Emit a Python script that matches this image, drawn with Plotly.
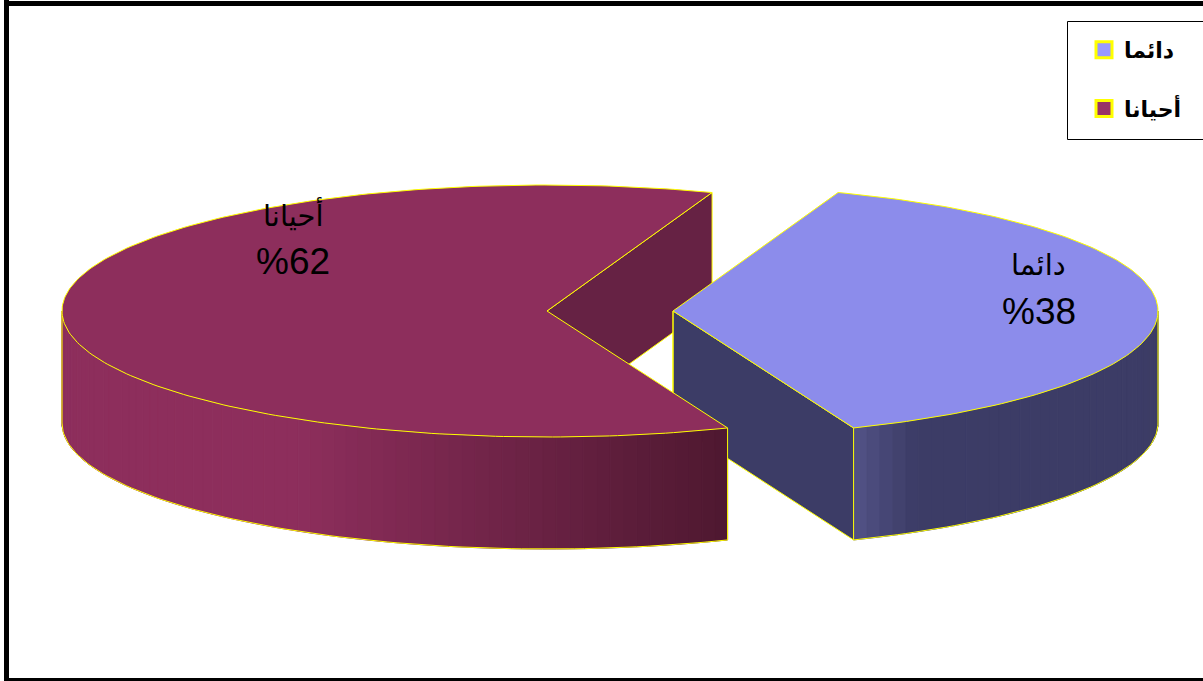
import math
import plotly.graph_objects as go

# ---- data ----
categories = ["دائما", "أحيانا"]
values = [38.4, 61.6]
label_text = ["%38", "%62"]

# ---- styling / geometry of the 3D projection ----
W, H = 1203, 681
TOP_COLORS = ["#8C8CEB", "#8D2E5C"]
LEGEND_COLORS = ["#9999FF", "#993366"]
CUT_COLORS = ["#3C3C66", "#662244"]
YELLOW = "#FFFF00"
CENTERS = [(673, 311), (547, 311)]
RX, RY, DEPTH = 485, 126, 112
START = 70.1
LABEL_POS = [(1038.5, 265, 311), (292.5, 214, 261)]
# wall shading: (x pixel, rgb) stops
WALL_STOPS = [
    [(855, (82, 82, 134)), (915, (60, 60, 102)), (1158, (60, 60, 102))],
    [(61, (141, 46, 92)), (300, (141, 46, 92)), (728, (78, 24, 48))],
]


def shade(stops, x):
    if x <= stops[0][0]:
        return "rgb(%d,%d,%d)" % stops[0][1]
    for (x0, c0), (x1, c1) in zip(stops, stops[1:]):
        if x <= x1:
            f = (x - x0) / (x1 - x0)
            return "rgb(%d,%d,%d)" % tuple(round(a + (b - a) * f) for a, b in zip(c0, c1))
    return "rgb(%d,%d,%d)" % stops[-1][1]


def rim(cx, cy, deg):
    r = math.radians(deg)
    return cx + RX * math.cos(r), cy - RY * math.sin(r)


def arc(cx, cy, a0, a1, n):
    pts = [rim(cx, cy, a0 + (a1 - a0) * i / n) for i in range(n + 1)]
    return [p[0] for p in pts], [p[1] for p in pts]


def poly(fig, xs, ys, fill, name=None, edge=None):
    fig.add_trace(go.Scatter(
        x=xs + xs[:1], y=ys + ys[:1], mode="lines", fill="toself", fillcolor=fill,
        line=dict(color=edge or fill, width=1), hoverinfo="skip", showlegend=False, name=name or ""))


def outline(fig, xs, ys):
    fig.add_trace(go.Scatter(x=xs, y=ys, mode="lines", line=dict(color=YELLOW, width=1),
                             hoverinfo="skip", showlegend=False))


# slice angles follow from the values (clockwise from START)
total = sum(values)
spans = [v / total * 360 for v in values]
blue_a0, blue_a1 = START, START - spans[0]
mar_a0, mar_a1 = blue_a1, blue_a1 - spans[1]

fig = go.Figure()

# --- maroon: back cut wall (visible through the gap)
cx, cy = CENTERS[1]
px, py = rim(cx, cy, mar_a1)
poly(fig, [cx, px, px, cx], [cy, py, py + DEPTH, cy + DEPTH], CUT_COLORS[1], edge=YELLOW)

# --- blue slice: cut wall, outer wall, top
cx, cy = CENTERS[0]
px, py = rim(cx, cy, blue_a1)
poly(fig, [cx, px, px, cx], [cy, py, py + DEPTH, cy + DEPTH], CUT_COLORS[0], edge=YELLOW)
seg = 40
for i in range(seg):
    a = blue_a1 + (0 - blue_a1) * i / seg
    b = blue_a1 + (0 - blue_a1) * (i + 1) / seg
    xs, ys = arc(cx, cy, a, b, 2)
    poly(fig, xs + xs[::-1], ys + [y + DEPTH for y in ys[::-1]], shade(WALL_STOPS[0], (xs[0] + xs[-1]) / 2))
xs, ys = arc(cx, cy, blue_a1, 0, 60)
outline(fig, xs, [y + DEPTH for y in ys])
outline(fig, [xs[0], xs[0]], [ys[0], ys[0] + DEPTH])
outline(fig, [xs[-1], xs[-1]], [ys[-1], ys[-1] + DEPTH])
outline(fig, [cx, cx], [cy, cy + DEPTH])
xs, ys = arc(cx, cy, blue_a0, blue_a1, 140)
poly(fig, [cx] + xs, [cy] + ys, TOP_COLORS[0], name=categories[0], edge=YELLOW)

# --- maroon slice: outer wall, top
cx, cy = CENTERS[1]
wall_start = -180
seg = 70
for i in range(seg):
    a = wall_start + (mar_a0 - wall_start) * i / seg
    b = wall_start + (mar_a0 - wall_start) * (i + 1) / seg
    xs, ys = arc(cx, cy, a, b, 2)
    poly(fig, xs + xs[::-1], ys + [y + DEPTH for y in ys[::-1]], shade(WALL_STOPS[1], (xs[0] + xs[-1]) / 2))
xs, ys = arc(cx, cy, wall_start, mar_a0, 90)
outline(fig, xs, [y + DEPTH for y in ys])
outline(fig, [xs[0], xs[0]], [ys[0], ys[0] + DEPTH])
outline(fig, [xs[-1], xs[-1]], [ys[-1], ys[-1] + DEPTH])
xs, ys = arc(cx, cy, mar_a0, mar_a1, 230)
poly(fig, [cx] + xs, [cy] + ys, TOP_COLORS[1], name=categories[1], edge=YELLOW)

# --- legend entries
for i, (c, col) in enumerate(zip(categories, LEGEND_COLORS)):
    fig.add_trace(go.Scatter(
        x=[None], y=[None], mode="markers", name=c, legendgroup=c,
        marker=dict(symbol="square", size=17, color=col, line=dict(color=YELLOW, width=3))))

# --- data labels
FONT = "Liberation Sans, Arial, DejaVu Sans, sans-serif"
annotations = []
for cat, lab, (lx, ly1, ly2) in zip(categories, label_text, LABEL_POS):
    annotations.append(dict(x=lx, y=ly1, xref="x", yref="y", text=cat, showarrow=False,
                            font=dict(family=FONT, size=29, color="black")))
    annotations.append(dict(x=lx, y=ly2, xref="x", yref="y", text=lab, showarrow=False,
                            font=dict(family=FONT, size=37, color="black")))

frame = [
    dict(type="rect", xref="paper", yref="paper", x0=4 / W, x1=9 / W, y0=0, y1=1,
         fillcolor="black", line_width=0, layer="above"),
    dict(type="rect", xref="paper", yref="paper", x0=4 / W, x1=1, y0=1 - 6 / H, y1=1 - 1 / H,
         fillcolor="black", line_width=0, layer="above"),
    dict(type="rect", xref="paper", yref="paper", x0=4 / W, x1=1, y0=0, y1=3 / H,
         fillcolor="black", line_width=0, layer="above"),
    dict(type="rect", xref="paper", yref="paper", x0=1067.5 / W, x1=1 + 5 / W,
         y0=1 - 139.5 / H, y1=1 - 21.5 / H,
         fillcolor="white", line=dict(color="black", width=1), layer="below"),
]

fig.update_layout(
    width=W, height=H, margin=dict(l=0, r=0, t=0, b=0, pad=0),
    paper_bgcolor="white", plot_bgcolor="white",
    xaxis=dict(range=[0, W], visible=False, fixedrange=True),
    yaxis=dict(range=[H, 0], visible=False, fixedrange=True),
    shapes=frame, annotations=annotations,
    legend=dict(x=1084 / W, y=1 - 29 / H, xanchor="left", yanchor="top",
                bgcolor="rgba(0,0,0,0)", borderwidth=0, tracegroupgap=27,
                itemclick=False, itemdoubleclick=False,
                font=dict(family=FONT, size=22, color="black", weight="bold")),
    showlegend=True,
)
fig.write_html("out.html", config={"displayModeBar": False},
               post_script="document.body.style.margin='0';document.body.style.overflow='hidden';")
